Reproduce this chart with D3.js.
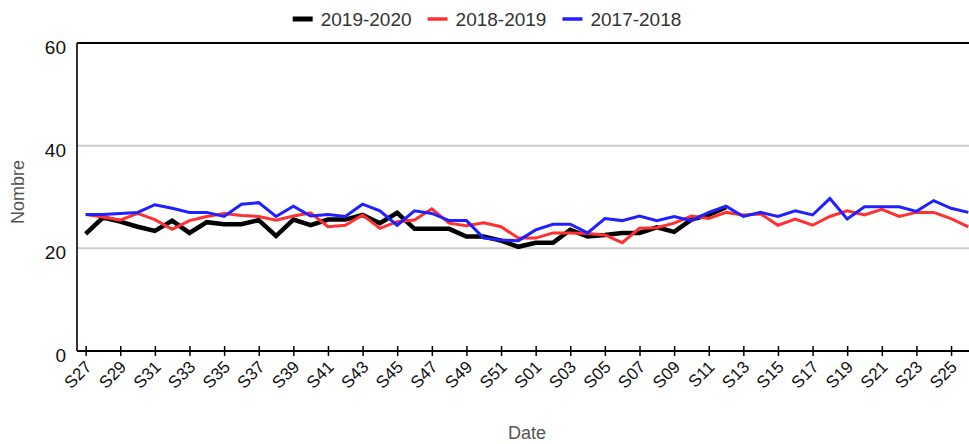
<!DOCTYPE html>
<html>
<head>
<meta charset="utf-8">
<script src="https://cdn.jsdelivr.net/npm/d3@7/dist/d3.min.js"></script>
<style>
  html, body { margin: 0; padding: 0; background: #fff; }
  svg { display: block; font-family: "Liberation Sans", Arial, sans-serif; }
</style>
</head>
<body>
<svg id="chart" width="969" height="444"></svg>
<script>
const weeks = ["S27","S28","S29","S30","S31","S32","S33","S34","S35","S36","S37","S38","S39","S40","S41","S42","S43","S44","S45","S46","S47","S48","S49","S50","S51","S52",
               "S01","S02","S03","S04","S05","S06","S07","S08","S09","S10","S11","S12","S13","S14","S15","S16","S17","S18","S19","S20","S21","S22","S23","S24","S25","S26"];
const seriesNames = ["2019-2020", "2018-2019", "2017-2018"];
const values2019_2020 = [22.8, 26.0, 25.2, 24.2, 23.4, 25.4, 23.0, 25.1, 24.7, 24.7, 25.5, 22.4, 25.6, 24.5, 25.6, 25.6, 26.5, 24.9, 26.9, 23.8, 23.8, 23.8, 22.3, 22.3, 21.5, 20.3, 21.1, 21.1, 23.6, 22.3, 22.6, 23.0, 23.0, 24.1, 23.2, 25.6, 26.5, 28.0];
const values2018_2019 = [26.6, 26.1, 25.5, 26.8, 25.6, 23.7, 25.4, 26.2, 26.8, 26.4, 26.2, 25.5, 26.3, 26.9, 24.2, 24.5, 26.5, 23.9, 25.2, 25.5, 27.7, 24.9, 24.4, 25.0, 24.2, 22.0, 22.0, 23.0, 23.0, 22.9, 22.6, 21.1, 23.9, 24.0, 24.9, 26.3, 25.8, 27.0, 26.5, 26.7, 24.5, 25.7, 24.5, 26.2, 27.3, 26.5, 27.6, 26.2, 27.0, 27.0, 25.8, 24.2];
const values2017_2018 = [26.6, 26.6, 26.8, 27.0, 28.5, 27.8, 27.0, 27.0, 26.2, 28.6, 28.9, 26.2, 28.2, 26.3, 26.6, 26.2, 28.6, 27.3, 24.5, 27.3, 26.8, 25.4, 25.4, 22.0, 21.6, 21.5, 23.6, 24.7, 24.7, 23.0, 25.8, 25.4, 26.3, 25.4, 26.2, 25.4, 27.0, 28.2, 26.2, 27.0, 26.2, 27.3, 26.5, 29.7, 25.7, 28.1, 28.1, 28.1, 27.2, 29.3, 27.8, 27.0];
const yTicks = [0, 20, 40, 60];
const xTickLabels = weeks.filter((d, i) => i % 2 === 0);
const yTitle = "Nombre";
const xTitle = "Date";

const colors = ["#000000", "#ff3030", "#2020ff"];
const widths = [4.5, 3, 3];
const allSeries = [values2019_2020, values2018_2019, values2017_2018];

const svg = d3.select("#chart");
const pLeft = 77, pRight = 977, pTop = 43, pBottom = 351;

const x = d3.scalePoint().domain(weeks).range([pLeft, pRight]).padding(0.5);
const y = d3.scaleLinear().domain([0, 60]).range([pBottom, pTop]);

// gridlines
svg.append("g").selectAll("line").data(yTicks.filter(t => t > 0 && t < 60)).join("line")
  .attr("x1", pLeft).attr("x2", 969).attr("y1", d => y(d)).attr("y2", d => y(d))
  .attr("stroke", "#cccccc").attr("stroke-width", 2);
// top line
svg.append("line").attr("x1", pLeft).attr("x2", 969).attr("y1", y(60)).attr("y2", y(60))
  .attr("stroke", "#000").attr("stroke-width", 2);
// left axis line
svg.append("line").attr("x1", pLeft).attr("x2", pLeft).attr("y1", y(60)).attr("y2", y(0))
  .attr("stroke", "#000").attr("stroke-width", 1.6);

// y labels
svg.append("g").selectAll("text").data(yTicks).join("text")
  .attr("x", 66).attr("y", d => y(d) + 6)
  .attr("text-anchor", "end").attr("dominant-baseline", "middle")
  .attr("font-size", 19).attr("fill", "#111").text(d => d);

// lines
const line = d3.line().x((d, i) => x(weeks[i])).y(d => y(d));
allSeries.forEach((s, k) => {
  svg.append("path").datum(s).attr("d", line)
    .attr("fill", "none").attr("stroke", colors[k]).attr("stroke-width", widths[k])
    .attr("stroke-linejoin", "miter").attr("stroke-linecap", "butt");
});

// x axis
const xAxis = d3.axisBottom(x).tickValues(xTickLabels).tickSizeInner(5).tickSizeOuter(0).tickFormat("");
const gx = svg.append("g").attr("transform", `translate(0,${pBottom})`).call(xAxis);
gx.select(".domain").attr("stroke", "#000").attr("stroke-width", 2).attr("d", `M${pLeft},0H969`);
gx.selectAll(".tick line").attr("stroke", "#000").attr("stroke-width", 1.5).attr("y1", -5).attr("y2", 5);
svg.append("g").selectAll("text").data(xTickLabels).join("text")
  .attr("transform", d => `translate(${x(d) + 7},${pBottom + 17}) rotate(-45)`)
  .attr("text-anchor", "end").attr("font-size", 17).attr("fill", "#111").text(d => d);

// axis titles
svg.append("text").attr("x", 527).attr("y", 439).attr("text-anchor", "middle")
  .attr("font-size", 18).attr("fill", "#555").text(xTitle);
svg.append("text").attr("transform", "translate(24,192) rotate(-90)").attr("text-anchor", "middle")
  .attr("font-size", 18).attr("fill", "#555").text(yTitle);

// legend
const legend = svg.append("g");
const items = legend.selectAll("g").data(seriesNames).join("g");
items.append("line").attr("x1", 0).attr("x2", 20).attr("y1", 0).attr("y2", 0)
  .attr("stroke", (d, i) => colors[i]).attr("stroke-width", (d, i) => i === 0 ? 5 : 3.5);
items.append("text").attr("x", 28).attr("y", 0).attr("dominant-baseline", "central")
  .attr("font-size", 19).attr("fill", "#333").text(d => d);
let pos = 0; const offs = [];
items.each(function(d, i) {
  const w = 28 + d3.select(this).select("text").node().getComputedTextLength();
  offs.push(pos); pos += w + 16;
});
const total = pos - 16;
const start = 487 - total / 2;
items.attr("transform", (d, i) => `translate(${start + offs[i]},19)`);
</script>
</body>
</html>
